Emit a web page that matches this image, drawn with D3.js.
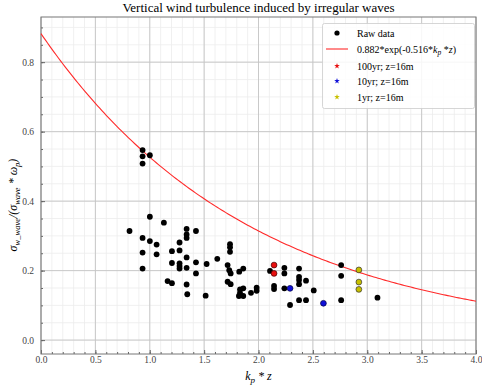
<!DOCTYPE html>
<html>
<head>
<meta charset="utf-8">
<script src="https://cdn.jsdelivr.net/npm/d3@7"></script>
<style>
  body { margin: 0; background: #fff; }
  svg text { font-family: "Liberation Serif", "DejaVu Serif", serif; }
</style>
</head>
<body>
<script>
// raw measurements (k_p*z, normalised sigma)
var rawX = [0.934, 0.934, 0.934, 1.001, 0.814, 0.934, 0.934, 0.934, 1.001, 1.001,
            1.063, 1.063, 1.130, 1.164, 1.204, 1.204, 1.204, 1.274, 1.274, 1.274,
            1.274, 1.274, 1.339, 1.339, 1.339, 1.339, 1.339, 1.339, 1.345, 1.425,
            1.425, 1.425, 1.514, 1.523, 1.621, 1.738, 1.738, 1.738, 1.716, 1.731,
            1.744, 1.716, 1.744, 1.823, 1.860, 1.830, 1.830, 1.860, 1.860, 1.820,
            1.931, 1.983, 1.983, 2.106, 2.143, 2.143, 2.238, 2.238, 2.238, 2.290,
            2.373, 2.373, 2.373, 2.373, 2.373, 2.437, 2.437, 2.508, 2.760, 2.760,
            2.760, 3.094];
var rawY = [0.547, 0.529, 0.508, 0.532, 0.314, 0.294, 0.252, 0.206, 0.355, 0.285,
            0.275, 0.247, 0.338, 0.170, 0.256, 0.222, 0.164, 0.281, 0.258, 0.221,
            0.213, 0.206, 0.320, 0.304, 0.294, 0.238, 0.208, 0.160, 0.132, 0.314,
            0.224, 0.192, 0.128, 0.219, 0.234, 0.276, 0.267, 0.254, 0.216, 0.201,
            0.192, 0.168, 0.161, 0.197, 0.206, 0.146, 0.136, 0.149, 0.127, 0.127,
            0.136, 0.151, 0.142, 0.199, 0.156, 0.147, 0.208, 0.192, 0.149, 0.101,
            0.206, 0.182, 0.173, 0.161, 0.115, 0.171, 0.115, 0.143, 0.216, 0.185,
            0.115, 0.122];

var yr100X = [2.143, 2.143];
var yr100Y = [0.216, 0.192];
var yr10X = [2.290, 2.597];
var yr10Y = [0.149, 0.106];
var yr1X = [2.923, 2.923, 2.923];
var yr1Y = [0.202, 0.167, 0.146];

// fit: a*exp(b*x)
var fitA = 0.882, fitB = -0.516;

var xTicks = [0, 0.5, 1, 1.5, 2, 2.5, 3, 3.5, 4];
var yTicks = [0, 0.2, 0.4, 0.6, 0.8];

var W = 482, H = 385;
var L = 41, R = 476, T = 17, B = 354;

var x = d3.scaleLinear().domain([0, 4]).range([L, R]);
var y = d3.scaleLinear().domain([-0.04, 0.93]).range([B, T]);

var svg = d3.select("body").append("svg")
    .attr("width", W)
    .attr("height", H);

// minor grid
var xMinor = d3.range(0, 4.001, 0.1);
var yMinor = d3.range(0, 0.93, 0.05);
svg.append("g").selectAll("line").data(xMinor).enter().append("line")
    .attr("x1", function(d) { return x(d); }).attr("x2", function(d) { return x(d); })
    .attr("y1", T).attr("y2", B)
    .attr("stroke", "#ececec").attr("stroke-width", 0.8);
svg.append("g").selectAll("line").data(yMinor).enter().append("line")
    .attr("y1", function(d) { return y(d); }).attr("y2", function(d) { return y(d); })
    .attr("x1", L).attr("x2", R)
    .attr("stroke", "#ececec").attr("stroke-width", 0.8);

// major grid
svg.append("g").selectAll("line").data(xTicks).enter().append("line")
    .attr("x1", function(d) { return x(d); }).attr("x2", function(d) { return x(d); })
    .attr("y1", T).attr("y2", B)
    .attr("stroke", "#c4c4c4").attr("stroke-width", 0.9);
svg.append("g").selectAll("line").data(yTicks).enter().append("line")
    .attr("y1", function(d) { return y(d); }).attr("y2", function(d) { return y(d); })
    .attr("x1", L).attr("x2", R)
    .attr("stroke", "#c4c4c4").attr("stroke-width", 0.9);

// axes, ticks pointing inward
svg.append("g").attr("transform", "translate(0," + B + ")")
    .call(d3.axisBottom(x).tickValues(xTicks).tickFormat(d3.format(".1f")).tickSizeInner(-4).tickSizeOuter(0).tickPadding(2));
svg.append("g").attr("transform", "translate(" + L + ",0)")
    .call(d3.axisLeft(y).tickValues(yTicks).tickFormat(d3.format(".1f")).tickSizeInner(-4).tickSizeOuter(0).tickPadding(7));
svg.append("g").attr("transform", "translate(0," + B + ")")
    .call(d3.axisBottom(x).tickValues(xMinor).tickFormat("").tickSizeInner(-2).tickSizeOuter(0));
svg.append("g").attr("transform", "translate(" + L + ",0)")
    .call(d3.axisLeft(y).tickValues(yMinor).tickFormat("").tickSizeInner(-2).tickSizeOuter(0));

svg.selectAll(".domain").remove();
svg.selectAll(".tick line").attr("stroke", "#666");
svg.selectAll(".tick text").attr("fill", "#444").style("font-size", "9.5px");

// frame
svg.append("rect")
    .attr("x", L).attr("y", T).attr("width", R - L).attr("height", B - T)
    .attr("fill", "none").attr("stroke", "#777").attr("stroke-width", 1);

// fitted curve
var fitPts = d3.range(0, 4.001, 0.02).map(function(v) { return [v, fitA * Math.exp(fitB * v)]; });
svg.append("path")
    .datum(fitPts)
    .attr("fill", "none")
    .attr("stroke", "#ff2a2a")
    .attr("stroke-width", 1.1)
    .attr("d", d3.line().x(function(d) { return x(d[0]); }).y(function(d) { return y(d[1]); }));

// points
function drawDots(xs, ys, color, edge) {
    svg.append("g").selectAll("circle").data(xs).enter().append("circle")
        .attr("cx", function(d) { return x(d); })
        .attr("cy", function(d, i) { return y(ys[i]); })
        .attr("r", 2.9)
        .attr("fill", color)
        .attr("stroke", edge)
        .attr("stroke-width", edge == "none" ? 0 : 0.7);
}
drawDots(rawX, rawY, "#000", "none");
drawDots(yr100X, yr100Y, "#e81010", "#400");
drawDots(yr10X, yr10Y, "#1010d8", "#004");
drawDots(yr1X, yr1Y, "#c8c000", "#333");

// title & labels
svg.append("text")
    .attr("x", (L + R) / 2).attr("y", 12)
    .attr("text-anchor", "middle")
    .style("font-size", "13px")
    .text("Vertical wind turbulence induced by irregular waves");

var xl = svg.append("text")
    .attr("x", (L + R) / 2).attr("y", 380)
    .attr("text-anchor", "middle")
    .style("font-size", "12px").style("font-style", "italic");
xl.append("tspan").text("k");
xl.append("tspan").attr("dy", 3).style("font-size", "9px").text("p");
xl.append("tspan").attr("dy", -3).text(" * z");

var yl = svg.append("text")
    .attr("transform", "translate(17,205) rotate(-90)")
    .attr("text-anchor", "middle")
    .style("font-size", "12px").style("font-style", "italic");
yl.append("tspan").text("σ");
yl.append("tspan").attr("dy", 3).style("font-size", "8.5px").text("w_wave");
yl.append("tspan").attr("dy", -3).text("/(σ");
yl.append("tspan").attr("dy", 3).style("font-size", "8.5px").text("wave");
yl.append("tspan").attr("dy", -3).text(" * ω");
yl.append("tspan").attr("dy", 3).style("font-size", "8.5px").text("p");
yl.append("tspan").attr("dy", -3).text(")");

// legend
var leg = svg.append("g");
leg.append("rect")
    .attr("x", 322.5).attr("y", 23.5).attr("width", 152).attr("height", 85)
    .attr("rx", 2)
    .attr("fill", "#fff").attr("fill-opacity", 0.85)
    .attr("stroke", "#ccc").attr("stroke-width", 0.8);

var legNames = ["Raw data", "fit", "100yr; z=16m", "10yr; z=16m", "1yr; z=16m"];
var legColors = ["#000", "#ff2a2a", "#e81010", "#1010d8", "#c8c000"];
var legY = [33, 49, 66, 81, 97];

legNames.forEach(function(name, i) {
    var yy = legY[i];
    if (i == 0) {
        leg.append("circle").attr("cx", 337).attr("cy", yy).attr("r", 2.6).attr("fill", "#000");
    } else if (i == 1) {
        leg.append("line").attr("x1", 326).attr("x2", 348).attr("y1", yy).attr("y2", yy)
            .attr("stroke", legColors[i]).attr("stroke-width", 1.1);
    } else {
        leg.append("path")
            .attr("transform", "translate(337," + yy + ")")
            .attr("d", d3.symbol().type(d3.symbolStar).size(10))
            .attr("fill", legColors[i]);
    }
    var t = leg.append("text").attr("x", 357).attr("y", yy + 3.5).style("font-size", "10px");
    if (i == 1) {
        t.append("tspan").text(fitA + "*exp(" + fitB + "*");
        t.append("tspan").style("font-style", "italic").text("k");
        t.append("tspan").attr("dy", 2).style("font-size", "7.5px").style("font-style", "italic").text("p");
        t.append("tspan").attr("dy", -2).text(" *");
        t.append("tspan").style("font-style", "italic").text("z");
        t.append("tspan").text(")");
    } else {
        t.text(name);
    }
});
</script>
</body>
</html>
